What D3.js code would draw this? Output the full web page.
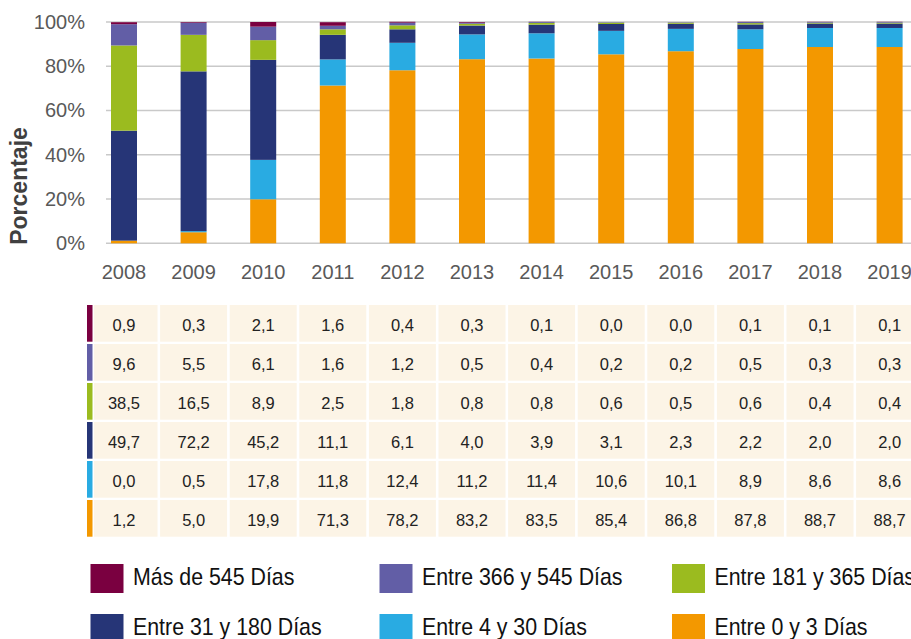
<!DOCTYPE html>
<html>
<head>
<meta charset="utf-8">
<script src="https://cdn.jsdelivr.net/npm/d3@7"></script>
<style>
  body { margin: 0; background: #fff; }
  svg { display: block; }
</style>
</head>
<body>
<div class="container"></div>
<script>
var width = 911, height = 639;

// DATA
const years = ['2008','2009','2010','2011','2012','2013','2014','2015','2016','2017','2018','2019']
const seriesNames = ['Más de 545 Días', 'Entre 366 y 545 Días', 'Entre 181 y 365 Días',
                     'Entre 31 y 180 Días', 'Entre 4 y 30 Días', 'Entre 0 y 3 Días']
const mas545   = [0.9, 0.3, 2.1, 1.6, 0.4, 0.3, 0.1, 0.0, 0.0, 0.1, 0.1, 0.1]
const d366_545 = [9.6, 5.5, 6.1, 1.6, 1.2, 0.5, 0.4, 0.2, 0.2, 0.5, 0.3, 0.3]
const d181_365 = [38.5, 16.5, 8.9, 2.5, 1.8, 0.8, 0.8, 0.6, 0.5, 0.6, 0.4, 0.4]
const d31_180  = [49.7, 72.2, 45.2, 11.1, 6.1, 4.0, 3.9, 3.1, 2.3, 2.2, 2.0, 2.0]
const d4_30    = [0.0, 0.5, 17.8, 11.8, 12.4, 11.2, 11.4, 10.6, 10.1, 8.9, 8.6, 8.6]
const d0_3     = [1.2, 5.0, 19.9, 71.3, 78.2, 83.2, 83.5, 85.4, 86.8, 87.8, 88.7, 88.7]
const yTicks = [0, 20, 40, 60, 80, 100]

// COLORS
const colors = ['#7a0040', '#625ea6', '#9bbb1f', '#263577', '#29abe2', '#f39800']
const gridColor = '#c9c9c9'
const labelColor = '#595959'
const cellColor = '#fcf4e6'

const rows = [mas545, d366_545, d181_365, d31_180, d4_30, d0_3]

// table used by the stack
var table = years.map(function(y, i) {
  var o = {year: y}
  seriesNames.forEach(function(n, k) { o[n] = rows[k][i] })
  return o
})

var stack = d3.stack().keys(seriesNames.slice().reverse())
var stacked = stack(table)

// SCALES
var x = d3.scaleBand().domain(years).range([89.2, 924.4]).padding(0)
var y = d3.scaleLinear().domain([0, 100]).range([243.3, 22])
var barW = 26

var svg = d3.select('div.container').append('svg')
    .attr('width', width)
    .attr('height', height)

// grid
svg.append('g').selectAll('line')
  .data(yTicks)
  .enter().append('line')
    .attr('x1', 106).attr('x2', width)
    .attr('y1', function(d) { return y(d) })
    .attr('y2', function(d) { return y(d) })
    .attr('stroke', gridColor)
    .attr('stroke-width', 1.5)

// y axis labels
var yAxis = svg.append('g')
    .attr('transform', 'translate(94,0)')
    .call(d3.axisLeft(y).tickValues(yTicks).tickSize(0).tickPadding(9)
          .tickFormat(function(d) { return d + '%' }))
yAxis.select('.domain').remove()
yAxis.selectAll('text')
    .attr('font-family', 'Liberation Sans, Arial, sans-serif')
    .attr('font-size', 20)
    .attr('fill', labelColor)

svg.append('text')
    .attr('transform', 'translate(27,186) rotate(-90)')
    .attr('text-anchor', 'middle')
    .attr('font-family', 'Liberation Sans, Arial, sans-serif')
    .attr('font-weight', 'bold')
    .attr('font-size', 23)
    .attr('fill', '#404040')
    .text('Porcentaje')

// bars
var colorOf = {}
seriesNames.forEach(function(n, k) { colorOf[n] = colors[k] })

svg.append('g').selectAll('g')
  .data(stacked)
  .enter().append('g')
    .attr('fill', function(s) { return colorOf[s.key] })
  .selectAll('rect')
  .data(function(s) { return s })
  .enter().append('rect')
    .attr('x', function(d) { return x(d.data.year) + (x.bandwidth() - barW) / 2 })
    .attr('width', barW)
    .attr('y', function(d) { return y(d[1]) })
    .attr('height', function(d) { return Math.max(0, y(d[0]) - y(d[1])) })

// year labels
var xAxis = svg.append('g')
    .attr('transform', 'translate(0,262)')
    .call(d3.axisBottom(x).tickSize(0).tickPadding(3))
xAxis.select('.domain').remove()
xAxis.selectAll('text')
    .attr('font-family', 'Liberation Sans, Arial, sans-serif')
    .attr('font-size', 20)
    .attr('fill', labelColor)

// data table
var rowTop = 305, rowStep = 39, rowH = 36.7, cellW = 67

var trows = svg.append('g').selectAll('g')
  .data(rows)
  .enter().append('g')
    .attr('transform', function(d, k) { return 'translate(0,' + (rowTop + k * rowStep) + ')' })

trows.append('rect')
    .attr('x', 87).attr('width', 5.5)
    .attr('height', rowH)
    .attr('fill', function(d, k) { return colors[k] })

trows.selectAll('rect.cell')
  .data(function(d) { return d })
  .enter().append('rect')
    .attr('class', 'cell')
    .attr('x', function(d, i) {
      var cx = x(years[i]) + x.bandwidth() / 2
      return i === 0 ? 94 : cx - cellW / 2
    })
    .attr('width', function(d, i) {
      var cx = x(years[i]) + x.bandwidth() / 2
      return i === 0 ? cx + cellW / 2 - 94 : cellW
    })
    .attr('height', rowH)
    .attr('fill', cellColor)

trows.selectAll('text')
  .data(function(d) { return d })
  .enter().append('text')
    .attr('x', function(d, i) { return x(years[i]) + x.bandwidth() / 2 })
    .attr('y', 25.5)
    .attr('text-anchor', 'middle')
    .attr('font-family', 'Liberation Sans, Arial, sans-serif')
    .attr('font-size', 16.5)
    .attr('fill', '#222')
    .text(function(d) { return d.toFixed(1).replace('.', ',') })

// legend
var squeeze = 0.89
var legend = svg.append('g').selectAll('g')
  .data(seriesNames)
  .enter().append('g')
    .attr('transform', function(d, k) {
      return 'translate(' + [90.5, 379.5, 672][k % 3] + ',' + (564 + Math.floor(k / 3) * 50) + ')'
    })

legend.append('rect')
    .attr('width', 33).attr('height', 29)
    .attr('fill', function(d, k) { return colors[k] })

legend.append('text')
    .attr('transform', 'translate(42.5,21) scale(' + squeeze + ',1)')
    .attr('font-family', 'Liberation Sans, Arial, sans-serif')
    .attr('font-size', 24)
    .attr('fill', '#111')
    .text(function(d) { return d })
</script>
</body>
</html>
